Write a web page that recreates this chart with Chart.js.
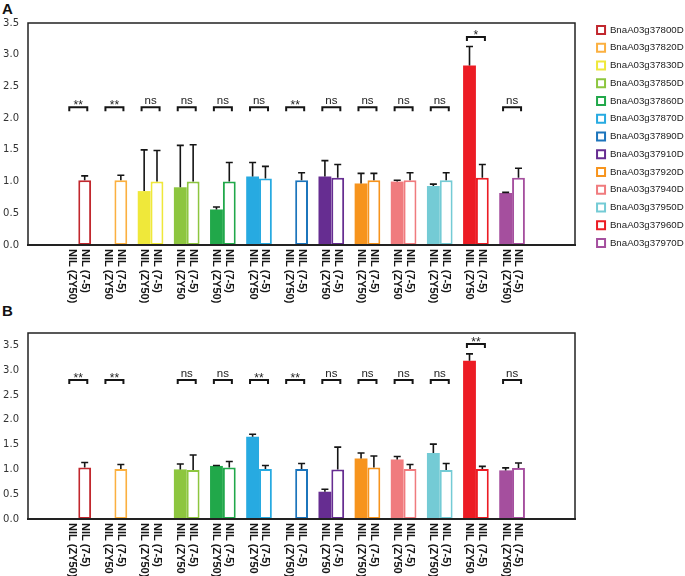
<!DOCTYPE html>
<html>
<head>
<meta charset="utf-8">
<script src="https://cdn.jsdelivr.net/npm/chart.js@4.4.1/dist/chart.umd.min.js"></script>
<style>
  body { margin: 0; background: #fff; }
  .wrap { position: relative; width: 685px; height: 576px; overflow: hidden; }
  .panel { position: absolute; left: 0; width: 685px; }
  .tag { position: absolute; left: 2px; font: bold 15px "Liberation Sans", Arial, sans-serif; color: #111; }
</style>
</head>
<body>
<div class="wrap">
  <div class="tag" style="top:0px">A</div>
  <div class="tag" style="top:302px">B</div>
  <div class="panel" style="top:0; height:305px"><canvas id="chartA"></canvas></div>
  <div class="panel" style="top:305px; height:271px"><canvas id="chartB"></canvas></div>
</div>
<script>
const genes = ["BnaA03g37800D", "BnaA03g37820D", "BnaA03g37830D", "BnaA03g37850D", "BnaA03g37860D",
  "BnaA03g37870D", "BnaA03g37890D", "BnaA03g37910D", "BnaA03g37920D", "BnaA03g37940D",
  "BnaA03g37950D", "BnaA03g37960D", "BnaA03g37970D"];
const colors = ["#c1272d", "#fbb040", "#efe83a", "#8dc63f", "#21a84a", "#27aae1", "#1c75bc",
  "#662d91", "#f7941d", "#f07b7e", "#74cbd5", "#ec1c24", "#a54f9e"];

const labelsZY = ["NIL (ZY50)", "NIL (ZY50", "NIL (ZY50)", "NIL (ZY50", "NIL (ZY50)", "NIL (ZY50",
  "NIL (ZY50)", "NIL (ZY50", "NIL (ZY50)", "NIL (ZY50", "NIL (ZY50)", "NIL (ZY50", "NIL (ZY50)"];
const labels75 = genes.map(() => "NIL (7-5)");

// panel A
const zyA = [null, null, 0.85, 0.91, 0.56, 1.08, null, 1.08, 0.97, 1.0, 0.93, 2.83, 0.82];
const zyAerr = [0, 0, 0.65, 0.66, 0.04, 0.22, 0, 0.25, 0.16, 0.02, 0.03, 0.30, 0.01];
const nilA = [1.02, 1.02, 1.0, 1.0, 1.0, 1.05, 1.02, 1.06, 1.02, 1.02, 1.02, 1.06, 1.06];
const nilAerr = [0.07, 0.08, 0.49, 0.58, 0.30, 0.19, 0.12, 0.21, 0.11, 0.12, 0.12, 0.21, 0.15];
const sigA = ["**", "**", "ns", "ns", "ns", "ns", "**", "ns", "ns", "ns", "ns", "*", "ns"];
const sigAy = [2.17, 2.17, 2.17, 2.17, 2.17, 2.17, 2.17, 2.17, 2.17, 2.17, 2.17, 3.28, 2.17];

// panel B
const zyB = [null, null, null, 1.0, 1.07, 1.66, null, 0.55, 1.22, 1.2, 1.33, 3.19, 0.98];
const zyBerr = [0, 0, 0, 0.11, 0.01, 0.05, 0, 0.05, 0.11, 0.06, 0.18, 0.14, 0.05];
const nilB = [1.04, 1.01, null, 0.99, 1.04, 1.01, 1.01, 1.0, 1.04, 1.01, 0.99, 1.01, 1.03];
const nilBerr = [0.10, 0.09, 0, 0.30, 0.12, 0.07, 0.11, 0.45, 0.23, 0.09, 0.13, 0.05, 0.10];
const sigB = ["**", "**", "", "ns", "ns", "**", "**", "ns", "ns", "ns", "ns", "**", "ns"];
const sigBy = [2.8, 2.8, 2.8, 2.8, 2.8, 2.8, 2.8, 2.8, 2.8, 2.8, 2.8, 3.53, 2.8];

const ink = "#151515";

// frame, error bars, brackets and rotated x labels
const extras = {
  id: "extras",
  beforeLayout(chart) {
    // keep the legend column 110px wide so both plots end at the same x
    const lg = chart.legend;
    if (lg && !lg._fixedWidth) {
      const fit = lg.fit.bind(lg);
      lg.fit = function () { fit(); if (this.options.display) this.width = 110; };
      lg._fixedWidth = true;
    }
  },
  afterLayout(chart) {
    // legend column sits a bit higher and further right than its box
    const lg = chart.legend;
    if (lg && lg.options.display) {
      lg.top -= 6; lg.bottom -= 6;
      lg.left += 14; lg.right += 14;
    }
  },
  afterDatasetsDraw(chart, args, opts) {
    const ctx = chart.ctx;
    const area = chart.chartArea;
    const x = chart.scales.x, y = chart.scales.y;
    ctx.save();
    // error bars
    ctx.strokeStyle = ink;
    ctx.lineWidth = 1.6;
    chart.data.datasets.forEach((ds, d) => {
      const meta = chart.getDatasetMeta(d);
      ds.data.forEach((pt, i) => {
        if (pt.y == null || !ds.err[i]) return;
        const bx = meta.data[i].x;
        const y0 = y.getPixelForValue(pt.y);
        const y1 = y.getPixelForValue(pt.y + ds.err[i]);
        ctx.beginPath();
        ctx.moveTo(bx, y0); ctx.lineTo(bx, y1);
        ctx.moveTo(bx - 3.5, y1); ctx.lineTo(bx + 3.5, y1);
        ctx.stroke();
      });
    });
    // significance brackets
    ctx.lineWidth = 2;
    ctx.fillStyle = "#222";
    ctx.textAlign = "center";
    ctx.textBaseline = "alphabetic";
    opts.sig.forEach((s, i) => {
      if (!s) return;
      const cx = x.getPixelForValue(i);
      const by = y.getPixelForValue(opts.sigY[i]);
      ctx.beginPath();
      ctx.moveTo(cx - 9, by + 4); ctx.lineTo(cx - 9, by); ctx.lineTo(cx + 9, by); ctx.lineTo(cx + 9, by + 4);
      ctx.stroke();
      if (s.startsWith("*")) {
        ctx.font = '12px "Liberation Sans", Arial, sans-serif';
        ctx.fillText(s, cx, by + 2);
      } else {
        ctx.font = '11.5px "Liberation Sans", Arial, sans-serif';
        ctx.fillText(s, cx, by - 3);
      }
    });
    // frame
    ctx.strokeStyle = "#222";
    ctx.lineWidth = 1.5;
    ctx.strokeRect(area.left, area.top, area.right - area.left, area.bottom - area.top);
    ctx.lineWidth = 2;
    ctx.beginPath();
    ctx.moveTo(area.left - 1, area.bottom); ctx.lineTo(area.right + 1, area.bottom);
    ctx.stroke();
    // x labels rotated clockwise
    ctx.fillStyle = ink;
    ctx.font = 'bold 11px "Liberation Sans", Arial, sans-serif';
    ctx.textAlign = "left";
    ctx.textBaseline = "middle";
    chart.data.datasets.forEach((ds, d) => {
      const meta = chart.getDatasetMeta(d);
      ds.tickLabels.forEach((lab, i) => {
        const bx = meta.data[i].x;
        ctx.save();
        ctx.translate(bx, area.bottom + 4);
        ctx.rotate(Math.PI / 2);
        ctx.fillText(lab, 0, 0);
        ctx.restore();
      });
    });
    ctx.restore();
  }
};

function makeChart(id, zy, zyErr, nil, nilErr, sig, sigY, yMax, topPad, bottomH, showLegend) {
  return new Chart(document.getElementById(id), {
    type: "bar",
    data: {
      datasets: [
        {
          label: "NIL (ZY50)",
          data: zy.map((v, i) => ({ x: i, y: v })),
          err: zyErr,
          tickLabels: labelsZY,
          backgroundColor: colors,
          borderColor: colors,
          borderWidth: 0,
          categoryPercentage: 0.71,
          barPercentage: 1.0
        },
        {
          label: "NIL (7-5)",
          data: nil.map((v, i) => ({ x: i, y: v })),
          err: nilErr,
          tickLabels: labels75,
          backgroundColor: "#ffffff",
          borderColor: colors,
          borderWidth: 2,
          borderSkipped: false,
          categoryPercentage: 0.71,
          barPercentage: 1.0
        }
      ]
    },
    options: {
      responsive: true,
      maintainAspectRatio: false,
      animation: false,
      layout: { padding: { top: topPad, right: showLegend ? 0 : 110, left: 0, bottom: 0 } },
      scales: {
        x: {
          type: "linear",
          min: -0.31,
          max: 12.66,
          grid: { display: false },
          border: { display: false },
          ticks: { display: false },
          afterFit(scale) { scale.height = bottomH; }
        },
        y: {
          min: 0,
          max: yMax,
          grid: { display: false, drawTicks: false },
          border: { display: false },
          ticks: {
            stepSize: 0.5,
            includeBounds: false,
            padding: 9,
            color: "#333",
            font: { family: "DejaVu Sans", size: 10 },
            callback: (v) => v.toFixed(1)
          },
          afterFit(scale) { scale.width = 28; }
        }
      },
      plugins: {
        legend: {
          display: showLegend,
          position: "right",
          align: "start",
          labels: {
            boxWidth: 8,
            boxHeight: 8,
            padding: 8.05,
            color: "#222",
            font: { family: "Liberation Sans", size: 9.7 },
            generateLabels: () => genes.map((g, i) => ({
              text: g,
              fillStyle: "#ffffff",
              strokeStyle: colors[i],
              lineWidth: 2,
              fontColor: "#222",
              hidden: false,
              index: i
            }))
          }
        },
        tooltip: { enabled: false },
        extras: { sig: sig, sigY: sigY }
      }
    },
    plugins: [extras]
  });
}

makeChart("chartA", zyA, zyAerr, nilA, nilAerr, sigA, sigAy, 3.5, 23, 60, true);
makeChart("chartB", zyB, zyBerr, nilB, nilBerr, sigB, sigBy, 3.75, 28, 57, false);
</script>
</body>
</html>
